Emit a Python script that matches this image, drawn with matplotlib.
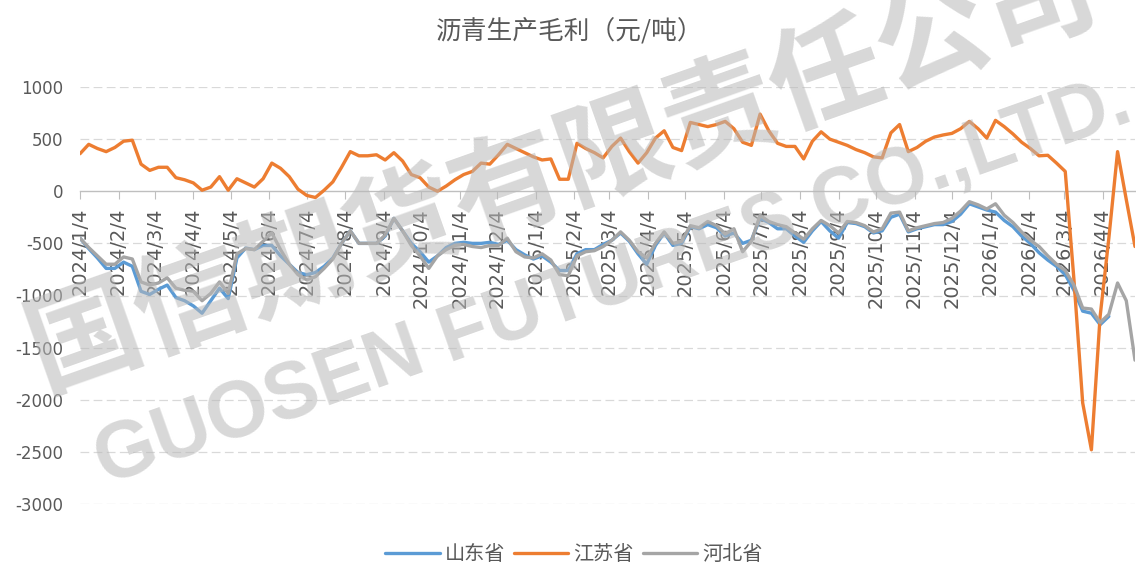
import numpy as np
import pandas as pd
import matplotlib
matplotlib.use("Agg")
import matplotlib.pyplot as plt

# ---------------- data ----------------
start_date = "2024-01-04"
n_weeks = 122
dates = pd.date_range(start_date, periods=n_weeks, freq="7D")

shandong = [
    -450, -550, -640, -740, -740, -680, -720, -960, -990, -940,
    -900, -1020, -1050, -1100, -1170, -1050, -930, -1030, -640, -545,
    -560, -520, -520, -620, -700, -780, -800, -780, -720, -640,
    -500, -380, -500, -500, -500, -430, -260, -380, -500, -580,
    -680, -620, -540, -500, -490, -500, -500, -490, -510, -470,
    -560, -610, -650, -620, -680, -760, -760, -600, -560, -560,
    -510, -470, -400, -480, -600, -700, -520, -400, -520, -500,
    -340, -360, -320, -350, -430, -400, -500, -470, -260, -300,
    -360, -360, -430, -490, -380, -290, -380, -450, -300, -310,
    -340, -400, -380, -250, -220, -390, -360, -340, -320, -320,
    -290, -220, -120, -150, -180, -200, -280, -340, -430, -500,
    -590, -660, -720, -800, -950, -1150, -1170, -1280, -1200, np.nan,
    np.nan, np.nan,
]
jiangsu = [
    360, 450, 410, 380, 420, 480, 490, 260, 200, 230,
    230, 130, 110, 80, 10, 40, 140, 10, 120, 80,
    40, 120, 270, 220, 140, 20, -40, -60, 10, 90,
    230, 380, 340, 340, 350, 300, 370, 290, 160, 130,
    40, 0, 50, 110, 160, 190, 270, 260, 350, 450,
    410, 370, 330, 300, 310, 115, 115, 460, 410, 370,
    320, 430, 510, 380, 270, 370, 510, 580, 420, 390,
    660, 640, 620, 640, 670, 600, 470, 440, 740, 580,
    460, 430, 430, 310, 480, 570, 500, 470, 440, 400,
    370, 330, 320, 560, 640, 380, 420, 480, 520, 540,
    555, 600, 670, 600, 510, 680, 620, 550, 470, 410,
    340, 345, 270, 190, -850, -2030, -2480, -1200, -450, 380,
    -80, -530,
]
hebei = [
    -450, -540, -620, -700, -700, -630, -650, -870, -900, -880,
    -830, -930, -950, -960, -1050, -980, -870, -980, -600, -550,
    -560, -480, -400, -560, -700, -800, -850, -820, -740, -650,
    -500, -380, -500, -500, -500, -420, -260, -380, -520, -620,
    -740, -620, -560, -520, -510, -530, -540, -520, -520, -450,
    -580, -630, -640, -600, -660, -800, -810, -620, -580, -570,
    -530, -470, -390, -470, -580, -640, -500, -390, -500, -480,
    -330, -350, -290, -330, -410, -360, -580, -480, -230, -290,
    -320, -340, -400, -460, -360, -280, -330, -400, -290, -300,
    -330, -390, -360, -210, -200, -380, -350, -330, -310, -300,
    -260, -190, -100, -130, -170, -120, -230, -300, -390, -470,
    -530, -620, -700, -760, -900, -1120, -1130, -1260, -1180, -880,
    -1050, -1620,
]
assert len(shandong) == len(jiangsu) == len(hebei) == n_weeks

series_names = ["山东省", "江苏省", "河北省"]
series_colors = ["#5B9BD5", "#ED7D31", "#A5A5A5"]

tick_labels = [
    "2024/1/4", "2024/2/4", "2024/3/4", "2024/4/4", "2024/5/4", "2024/6/4",
    "2024/7/4", "2024/8/4", "2024/9/4", "2024/10/4", "2024/11/4", "2024/12/4",
    "2025/1/4", "2025/2/4", "2025/3/4", "2025/4/4", "2025/5/4", "2025/6/4",
    "2025/7/4", "2025/8/4", "2025/9/4", "2025/10/4", "2025/11/4", "2025/12/4",
    "2026/1/4", "2026/2/4", "2026/3/4", "2026/4/4",
]
y_ticks = [1000, 500, 0, -500, -1000, -1500, -2000, -2500, -3000]

title = "沥青生产毛利（元/吨）"
watermark_cn = "国信期货有限责任公司"
watermark_en = "GUOSEN FUTURES CO.,LTD."

# ---------------- figure ----------------
W, H = 1136, 569
fig = plt.figure(figsize=(W / 100, H / 100), dpi=100)
ax = fig.add_axes([80 / W, 1 - 504 / H, (1135 - 80) / W, (504 - 87) / H])

text_color = "#595959"
cjk = ["Noto Sans CJK SC", "DejaVu Sans"]

for name, vals, col in zip(series_names, [shandong, jiangsu, hebei], series_colors):
    ax.plot(dates, vals, color=col, lw=2.4, solid_joinstyle="round",
            solid_capstyle="round", label=name, zorder=3)

ax.set_ylim(-3000, 1000)
ax.set_xlim(dates[0], dates[-1])
ax.set_yticks(y_ticks)
ax.set_yticklabels([str(v) for v in y_ticks])
for v in y_ticks:
    if v != 0:
        ax.axhline(v, color="#d9d9d9", lw=0.9, dashes=(7, 3.5), zorder=1)

tick_dates = pd.to_datetime(tick_labels, format="%Y/%m/%d")
ax.set_xticks(tick_dates)
ax.set_xticklabels(tick_labels)

for s in ["top", "right", "left"]:
    ax.spines[s].set_visible(False)
ax.spines["bottom"].set_position(("data", 0))
ax.spines["bottom"].set_color("#bfbfbf")
ax.spines["bottom"].set_linewidth(1.0)
ax.spines["bottom"].set_zorder(2)
ax.tick_params(axis="y", length=0, pad=12, labelsize=12, labelcolor=text_color)
ax.tick_params(axis="x", direction="out", length=6, color="#bfbfbf", pad=6,
               labelrotation=90, labelsize=14, labelcolor=text_color)
for lab in ax.get_xticklabels():
    lab.set_family("DejaVu Sans")
    lab.set_va("top")
    lab.set_ha("center")
for lab in ax.get_yticklabels():
    lab.set_family("DejaVu Sans")

fig.text(570 / W, 1 - 32 / H, title, ha="center", va="center",
         fontsize=18.5, color=text_color, family=cjk)

leg = fig.legend(loc="center", bbox_to_anchor=(574 / W, 1 - 555 / H), ncol=3,
                 frameon=False, prop={"family": cjk, "size": 14.5},
                 handlelength=2.7, handletextpad=0.25, columnspacing=0.45)
for t in leg.get_texts():
    t.set_color(text_color)

# watermark
fig.text(562 / W, 1 - 170 / H, watermark_cn, ha="center", va="center",
         rotation=19.5, rotation_mode="anchor", fontsize=81,
         fontweight="bold", family=cjk, color="#b8b8b8", alpha=0.55, zorder=10)
fig.text(613 / W, 1 - 282 / H, watermark_en, ha="center", va="center",
         rotation=19.5, rotation_mode="anchor", fontsize=57,
         fontweight="bold", family="Liberation Sans", color="#b8b8b8",
         alpha=0.55, zorder=10)

fig.savefig("out.png", dpi=100)
